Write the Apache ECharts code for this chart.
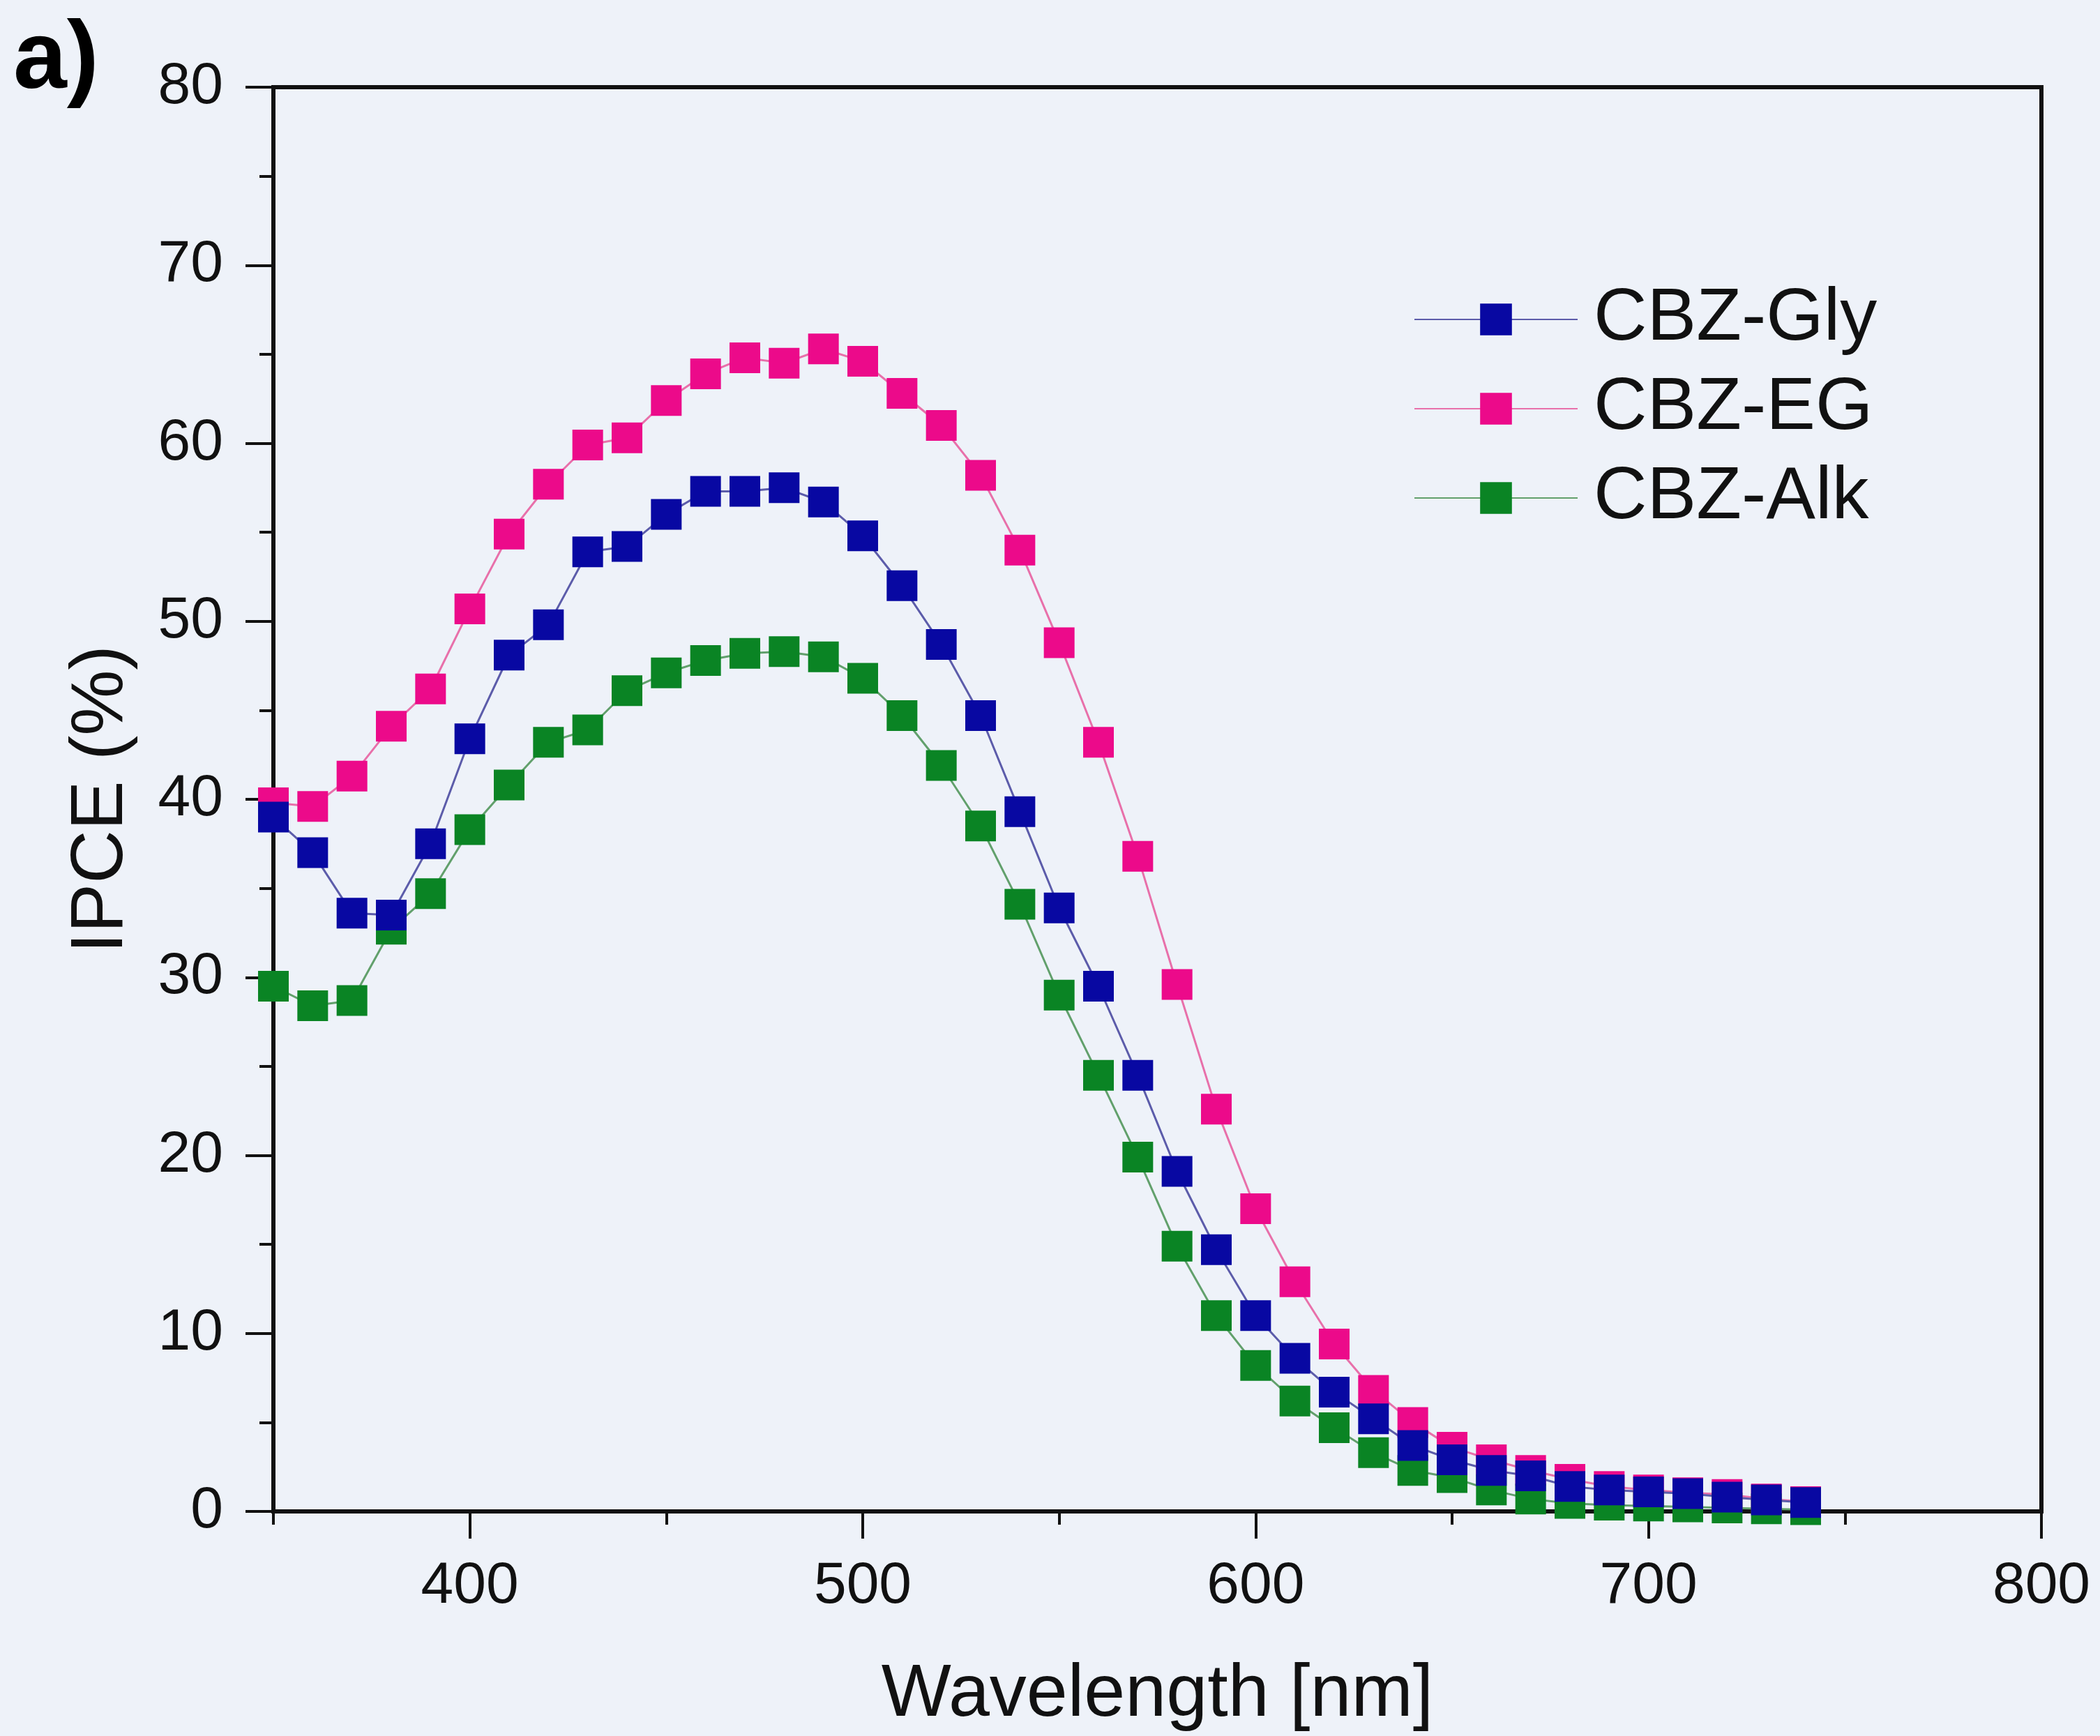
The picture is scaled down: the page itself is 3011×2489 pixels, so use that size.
<!DOCTYPE html>
<html>
<head>
<meta charset="utf-8">
<script src="https://cdn.jsdelivr.net/npm/echarts@6/dist/echarts.min.js"></script>
<style>
html,body{margin:0;padding:0;background:#eef2f9;}
#chart{width:3011px;height:2489px;}
</style>
</head>
<body>
<div id="chart"></div>
<script>
const wavelengths = [350,360,370,380,390,400,410,420,430,440,450,460,470,480,490,500,510,520,530,540,550,560,570,580,590,600,610,620,630,640,650,660,670,680,690,700,710,720,730,740];
const cbzGly = [39.0,37.0,33.6,33.5,37.5,43.4,48.1,49.8,53.9,54.2,56.0,57.3,57.3,57.5,56.7,54.8,52.0,48.7,44.7,39.3,33.9,29.5,24.5,19.1,14.7,11.0,8.6,6.7,5.2,3.7,2.9,2.3,2.0,1.4,1.2,1.1,1.0,0.8,0.65,0.5];
const cbzEG = [39.8,39.6,41.3,44.1,46.2,50.7,54.9,57.7,59.9,60.3,62.4,63.9,64.8,64.5,65.3,64.6,62.8,61.0,58.2,54.0,48.8,43.2,36.8,29.6,22.6,17.0,12.9,9.4,6.8,5.0,3.6,2.9,2.3,1.8,1.4,1.2,1.05,0.95,0.7,0.55];
const cbzAlk = [29.5,28.4,28.7,32.7,34.7,38.3,40.8,43.2,43.9,46.1,47.1,47.8,48.2,48.3,48.0,46.8,44.7,41.9,38.5,34.1,29.0,24.5,19.9,14.9,11.0,8.2,6.2,4.7,3.3,2.3,1.9,1.2,0.7,0.45,0.35,0.3,0.25,0.2,0.15,0.1];
const xMajorTicks = [400,500,600,700,800];
const seriesNames = ['CBZ-Gly','CBZ-EG','CBZ-Alk'];

const pairs = arr => wavelengths.map((w,i) => [w, arr[i]]);
const FONT = 'Liberation Sans';
const chart = echarts.init(document.getElementById('chart'), null, {renderer:'canvas'});

function mkSeries(name, data, color, lineColor) {
  return {
    name: name, type: 'line', data: pairs(data), xAxisIndex: 0, yAxisIndex: 0,
    symbol: 'rect', symbolSize: 44,
    itemStyle: {color: color},
    lineStyle: {color: lineColor, width: 3},
    emphasis: {disabled: true},
    clip: true
  };
}

chart.setOption({
  backgroundColor: '#eef2f9',
  animation: false,
  grid: {left: 392, right: 84, top: 125, bottom: 317, show: true, borderColor: '#111', borderWidth: 6, backgroundColor: 'transparent'},
  legend: {
    orient: 'vertical', left: 2022, top: 400,
    itemWidth: 234, itemHeight: 57, itemGap: 22,
    data: seriesNames,
    textStyle: {fontFamily: FONT, fontSize: 106, color: '#111', padding: [0,0,0,18]}
  },
  xAxis: [
    {
      type: 'value', min: 350, max: 800, interval: 50, position: 'bottom',
      axisLine: {lineStyle: {color: '#111', width: 6}},
      axisTick: {length: 19, lineStyle: {color: '#111', width: 4}},
      axisLabel: {show: false},
      splitLine: {show: false},
      name: 'Wavelength [nm]', nameLocation: 'middle', nameGap: 211,
      nameTextStyle: {fontFamily: FONT, fontSize: 106, color: '#111'}
    },
    {
      type: 'value', min: 350, max: 800, position: 'bottom',
      axisLine: {show: false},
      axisTick: {show: true, customValues: xMajorTicks, length: 39, lineStyle: {color: '#111', width: 4}},
      axisLabel: {customValues: xMajorTicks, fontFamily: FONT, fontSize: 84, color: '#111', margin: 66},
      splitLine: {show: false}
    }
  ],
  yAxis: {
    type: 'value', min: 0, max: 80, interval: 10,
    axisLine: {show: true, lineStyle: {color: '#111', width: 6}},
    axisTick: {show: true, length: 40, lineStyle: {color: '#111', width: 4}},
    minorTick: {show: true, splitNumber: 2, length: 20, lineStyle: {color: '#111', width: 4}},
    axisLabel: {fontFamily: FONT, fontSize: 84, color: '#111', margin: 72},
    splitLine: {show: false},
    name: 'IPCE (%)', nameLocation: 'middle', nameGap: 193,
    nameTextStyle: {fontFamily: FONT, fontSize: 106, color: '#111'}
  },
  graphic: [{
    type: 'text', left: 19, top: 19,
    style: {text: 'a)', font: 'bold 138px "Liberation Sans"', fill: '#000'}
  }],
  series: [
    mkSeries('CBZ-EG', cbzEG, '#ec0a8a', '#e870aa'),
    mkSeries('CBZ-Alk', cbzAlk, '#0a8424', '#62a06c'),
    mkSeries('CBZ-Gly', cbzGly, '#0808a2', '#5c5caa')
  ]
});
</script>
</body>
</html>
